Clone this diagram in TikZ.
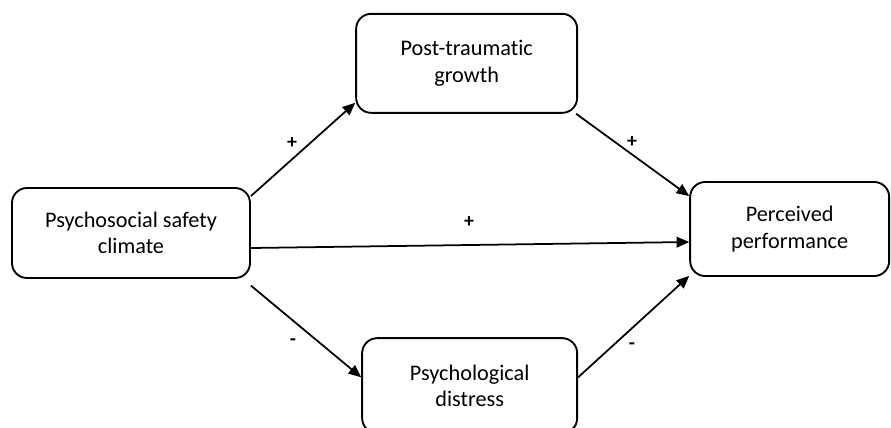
\documentclass[tikz,border=0pt]{standalone}
\usepackage{fontspec}
\setmainfont{Carlito}[Ligatures={NoCommon}]
\usetikzlibrary{arrows.meta}

\tikzset{
  varbox/.style={draw, line width=1.6pt, rounded corners=0.45cm, align=center,
    font=\fontsize{19}{22.5}\selectfont, inner sep=0pt},
  path/.style={line width=1.5pt, -{Triangle[length=0.38cm, width=0.32cm]}},
  sign/.style={font=\fontsize{17}{20}\selectfont\bfseries, inner sep=1pt}
}

\begin{document}
\begin{tikzpicture}
                \useasboundingbox (0,0) rectangle (26.73,-12.81);
                \clip (0,0) rectangle (26.73,-12.81);

                \node[varbox, minimum width=7.14cm, minimum height=2.7cm] (psc) at (3.93, -6.99) {Psychosocial safety\\climate};
                \node[varbox, minimum width=6.63cm, minimum height=2.97cm] (ptg) at (14.0, -1.9) {Post-traumatic\\growth};
                \node[varbox, minimum width=5.97cm, minimum height=2.82cm] (perf) at (23.69, -6.87) {Perceived\\performance};
                \node[varbox, minimum width=6.45cm, minimum height=2.85cm] (pd) at (14.09, -11.57) {Psychological\\distress};

                \draw[path] ([yshift=-0.27cm]psc.north east) -- ([yshift=0.33cm]ptg.south west);
                \draw[path] ([xshift=-0.06cm]ptg.south east) -- ([yshift=-0.45cm]perf.north west);
                \draw[path] ([yshift=-0.45cm]psc.east) -- ([yshift=-0.39cm]perf.west);
                \draw[path] ([yshift=-0.2cm]psc.south east) -- ([yshift=0.25cm]pd.west);
                \draw[path] ([yshift=0.25cm]pd.east) -- ([yshift=0.03cm]perf.south west);

                \node[sign] (s1) at (8.76, -4.29) {+};
                \node[sign] (s2) at (18.96, -4.26) {+};
                \node[sign] (s3) at (14.07, -6.66) {+};
                \node[sign] (s4) at (8.79, -10.26) {-};
                \node[sign] (s5) at (18.96, -10.38) {-};

            \end{tikzpicture}
\end{document}
